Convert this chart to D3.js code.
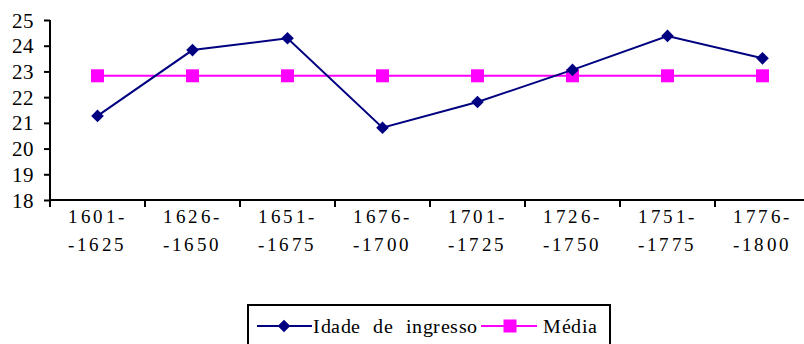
<!DOCTYPE html>
<html><head><meta charset="utf-8">
<script src="https://cdnjs.cloudflare.com/ajax/libs/d3/7.8.5/d3.min.js"></script>
<style>
@font-face{font-family:"RefSerif";src:local("Liberation Serif"),local("LiberationSerif"),local("Liberation Serif Regular"),local("LiberationSerif-Regular");}
#c text{font-family:"RefSerif","Liberation Serif",serif !important;}
</style>
</head><body style="margin:0;overflow:hidden;background:#fff">
<svg id="c" width="804" height="344"></svg>
<script>
const periodStart = ["1601-","1626-","1651-","1676-","1701-","1726-","1751-","1776-"];
const periodEnd   = ["-1625","-1650","-1675","-1700","-1725","-1750","-1775","-1800"];
const idade = [21.27, 23.83, 24.29, 20.81, 21.81, 23.06, 24.38, 23.51];
const media = [22.83, 22.83, 22.83, 22.83, 22.83, 22.83, 22.83, 22.83];
const yTicks = [18,19,20,21,22,23,24,25];
const seriesNames = ["Idade de ingresso","Média"];

const FONT = "RefSerif, Liberation Serif, serif";
const svg = d3.select("#c");
const cats = periodStart.map((d,i)=>i);
const x = d3.scaleBand().domain(cats).range([50, 810]);
const y = d3.scaleLinear().domain([18,25]).range([200,20]);
const cx = i => x(i) + x.bandwidth()/2;

// y axis
const ya = svg.append("g").attr("transform","translate(50,0)")
  .call(d3.axisLeft(y).tickValues(yTicks).tickSize(6).tickPadding(10).tickFormat(d3.format("d")));
ya.attr("font-family", FONT);
ya.select(".domain").attr("stroke","#000").attr("stroke-width",2).attr("d","M0,20V200");
ya.selectAll(".tick line").attr("stroke","#000").attr("stroke-width",2);
ya.selectAll(".tick text").attr("font-family",FONT).attr("font-size",21).attr("fill","#000").attr("dy","0.34em");

// x axis
const xa = svg.append("g").attr("transform","translate(0,200)");
xa.append("line").attr("x1",50).attr("x2",810).attr("stroke","#000").attr("stroke-width",2);
const bounds = cats.map(i=>x(i)).concat([x(cats.length-1)+x.bandwidth()]);
xa.selectAll("line.t").data(bounds).join("line").attr("class","t")
  .attr("x1",d=>d).attr("x2",d=>d).attr("y1",0).attr("y2",7)
  .attr("stroke","#000").attr("stroke-width",2);
const lbl = xa.selectAll("g.l").data(cats).join("g").attr("class","l")
  .attr("transform",i=>`translate(${cx(i)},0)`);
lbl.append("text").attr("text-anchor","middle").attr("y",23)
  .attr("font-family",FONT).attr("font-size",19)
  .attr("letter-spacing",2.5).text(i=>periodStart[i]);
lbl.append("text").attr("text-anchor","middle").attr("y",51)
  .attr("font-family",FONT).attr("font-size",19)
  .attr("letter-spacing",2.5).text(i=>periodEnd[i]);

// lines
const line = d3.line().x((d,i)=>cx(i)).y(d=>y(d));
svg.append("path").datum(media).attr("d",line).attr("fill","none")
  .attr("stroke","#FF00FF").attr("stroke-width",2);
svg.selectAll("rect.m").data(media).join("rect").attr("class","m")
  .attr("x",(d,i)=>cx(i)-6.5).attr("y",d=>y(d)-6.5).attr("width",13).attr("height",13)
  .attr("fill","#FF00FF");
svg.append("path").datum(idade).attr("d",line).attr("fill","none")
  .attr("stroke","#000080").attr("stroke-width",2);
const dia = d3.symbol().type(d3.symbolSquare).size(80)();
svg.selectAll("path.d").data(idade).join("path").attr("class","d")
  .attr("transform",(d,i)=>`translate(${cx(i)},${y(d)}) rotate(45)`)
  .attr("d",dia).attr("fill","#000080");

// legend
const lg = svg.append("g");
lg.append("rect").attr("x",248).attr("y",305).attr("width",362).attr("height",50)
  .attr("fill","none").attr("stroke","#000").attr("stroke-width",2);
lg.append("line").attr("x1",257).attr("x2",312).attr("y1",326).attr("y2",326)
  .attr("stroke","#000080").attr("stroke-width",2);
lg.append("path").attr("transform","translate(284,326) rotate(45)")
  .attr("d",dia).attr("fill","#000080");
lg.append("text").attr("x",313).attr("y",333).attr("font-family",FONT).attr("font-size",20)
  .attr("word-spacing",7).attr("letter-spacing",0.5).text(seriesNames[0]);
lg.append("line").attr("x1",481).attr("x2",537).attr("y1",326).attr("y2",326)
  .attr("stroke","#FF00FF").attr("stroke-width",2);
lg.append("rect").attr("x",503.5).attr("y",319.5).attr("width",13).attr("height",13).attr("fill","#FF00FF");
lg.append("text").attr("x",543).attr("y",333).attr("font-family",FONT).attr("font-size",20)
  .attr("letter-spacing",0.5).text(seriesNames[1]);
</script></body></html>
